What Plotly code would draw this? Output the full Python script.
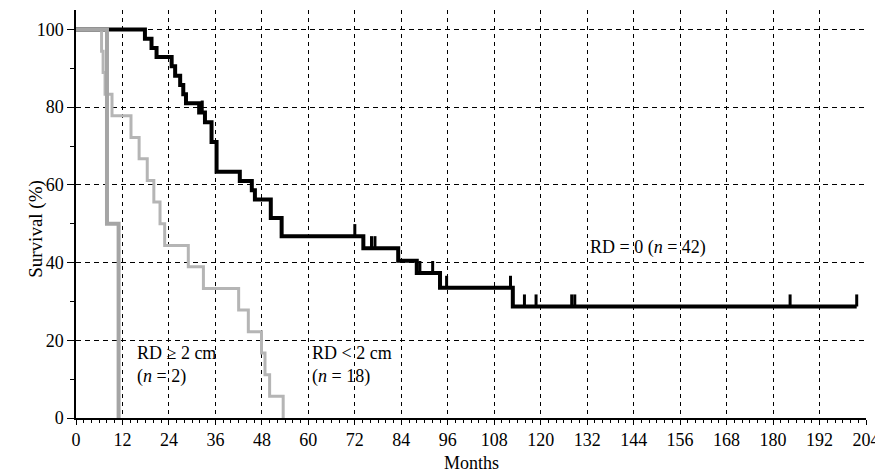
import plotly.graph_objects as go

# ---- data ----
rd0_times = [0, 17.8, 19.5, 20.8, 24.7, 25.6, 26.9, 27.7, 28.4, 31.8, 33.3, 35.0, 36.3,
             42.3, 45.4, 46.2, 50.3, 53.1, 74.2, 83.2, 88.0, 94.0, 112.8]
rd0_surv = [100, 97.6, 95.2, 92.9, 90.5, 88.1, 85.7, 83.3, 81.0, 78.6, 76.1, 71.0, 63.4,
            61.0, 58.6, 56.2, 51.5, 46.8, 43.7, 40.5, 37.3, 33.5, 28.7]
rd0_end = 201.6
rd0_censor = [32.6, 72.0, 76.3, 77.2, 88.8, 92.1, 95.7, 112.2, 115.8, 118.8,
              128.0, 128.8, 184.4, 201.6]

rdlt2_times = [0, 6.6, 7.0, 7.5, 9.3, 14.2, 16.3, 18.4, 20.1, 21.7, 22.9, 29.0, 32.9,
               42.0, 44.5, 47.9, 48.8, 50.0, 53.5]
rdlt2_surv = [100, 94.4, 88.9, 83.3, 77.8, 72.2, 66.7, 61.1, 55.6, 50.0, 44.4, 38.9, 33.3,
              27.8, 22.2, 16.7, 11.1, 5.6, 0]

rdge2_times = [0, 8.0, 11.0]
rdge2_surv = [100, 50, 0]

x_ticks = list(range(0, 205, 12))
y_ticks = [0, 20, 40, 60, 80, 100]

FONT = "Liberation Serif"


def level_at(t, times, surv):
    lv = surv[0]
    for tt, s in zip(times, surv):
        if tt <= t:
            lv = s
    return lv


fig = go.Figure()

# RD = 0 curve
fig.add_trace(go.Scatter(
    x=rd0_times + [rd0_end], y=rd0_surv + [rd0_surv[-1]],
    mode="lines", line=dict(shape="hv", color="black", width=4), hoverinfo="skip"))
# censor ticks
cens_y = [level_at(t, rd0_times, rd0_surv) for t in rd0_censor]
fig.add_trace(go.Scatter(
    x=rd0_censor, y=cens_y, mode="markers",
    marker=dict(size=1, color="rgba(0,0,0,0)"),
    error_y=dict(type="data", symmetric=False, array=[3.1] * len(rd0_censor),
                 arrayminus=[0] * len(rd0_censor), thickness=3, width=0, color="black"),
    hoverinfo="skip"))

# RD < 2 cm curve
fig.add_trace(go.Scatter(
    x=rdlt2_times, y=rdlt2_surv, mode="lines",
    line=dict(shape="hv", color="#b5b5b5", width=3), hoverinfo="skip"))
# RD >= 2 cm curve
fig.add_trace(go.Scatter(
    x=rdge2_times, y=rdge2_surv, mode="lines",
    line=dict(shape="hv", color="#a5a5a5", width=4), hoverinfo="skip"))

fig.add_annotation(x=147.7, y=43.8, xref="x", yref="y",
                   text="RD = 0 (<i>n</i> = 42)", showarrow=False,
                   font=dict(family=FONT, size=18, color="black"))
fig.add_annotation(x=15.2, y=13.7, xref="x", yref="y", xanchor="left", align="left",
                   text="RD ≥ 2 cm<br>(<i>n</i> = 2)", showarrow=False,
                   font=dict(family=FONT, size=18, color="black"))
fig.add_annotation(x=60.4, y=13.7, xref="x", yref="y", xanchor="left", align="left",
                   text="RD < 2 cm<br>(<i>n</i> = 18)", showarrow=False,
                   font=dict(family=FONT, size=18, color="black"))
fig.add_annotation(x=0.5, y=0, xref="paper", yref="paper", yshift=-45,
                   text="Months", showarrow=False, yanchor="middle",
                   font=dict(family=FONT, size=18, color="black"))
fig.add_annotation(x=0, y=48.7, xref="paper", yref="y", xshift=-53,
                   text="Survival (%)", showarrow=False, textangle=-90,
                   font=dict(family=FONT, size=19, color="black"))

fig.update_xaxes(
    range=[0, 204], tickvals=x_ticks, ticktext=[str(v) for v in x_ticks],
    automargin=False,
    showline=True, linecolor="black", linewidth=1.5,
    ticks="outside", ticklen=5, tickcolor="black", tickwidth=1.2,
    minor=dict(dtick=2, ticks="outside", ticklen=3, tickcolor="black", showgrid=False),
    showgrid=True, gridcolor="black", gridwidth=1, griddash="4px,4px",
    zeroline=False, tickfont=dict(family=FONT, size=18, color="black"))
fig.update_yaxes(
    range=[0, 105], tickvals=y_ticks, ticktext=[str(v) for v in y_ticks],
    automargin=False,
    showline=True, linecolor="black", linewidth=1.5,
    ticks="outside", ticklen=7, tickcolor="black", tickwidth=1.2,
    minor=dict(tickvals=[10, 30, 50, 70, 90], ticks="outside", ticklen=4,
               tickcolor="black", showgrid=False),
    showgrid=True, gridcolor="black", gridwidth=1, griddash="5px,4px",
    zeroline=False, tickfont=dict(family=FONT, size=18, color="black"))

# page body has an 8px default margin, so the figure is sized/offset to compensate
fig.update_layout(
    width=875, height=468, showlegend=False,
    margin=dict(l=68, r=17, t=2, b=58),
    plot_bgcolor="white", paper_bgcolor="white")

fig.write_html("out.html")
